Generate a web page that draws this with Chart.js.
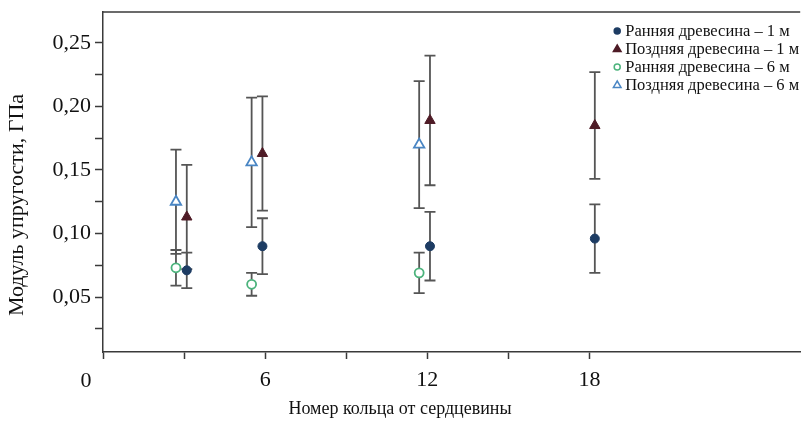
<!DOCTYPE html>
<html>
<head>
<meta charset="utf-8">
<script src="https://cdn.jsdelivr.net/npm/chart.js@4.4.1/dist/chart.umd.min.js"></script>
<style>
    html, body { margin: 0; padding: 0; background: #fff; }
</style>
</head>
<body>
<canvas id="chart" width="808" height="428"></canvas>
<script>
// Номер кольца от сердцевины (положение точек по оси X)
const ringsEarly1 = [3.1, 5.9, 12.1, 18.2];
const ringsLate1 = [3.1, 5.9, 12.1, 18.2];
const ringsEarly6 = [2.7, 5.5, 11.7];
const ringsLate6 = [2.7, 5.5, 11.7];

// Модуль упругости, ГПа
const early1 = [0.071, 0.090, 0.090, 0.096];
const late1 = [0.113, 0.163, 0.189, 0.185];
const early6 = [0.073, 0.060, 0.069];
const late6 = [0.125, 0.156, 0.170];

// Полуширина планок погрешностей
const early1Err = [0.014, 0.022, 0.027, 0.027];
const late1Err = [0.041, 0.045, 0.051, 0.042];
const early6Err = [0.014, 0.009, 0.016];
const late6Err = [0.041, 0.051, 0.050];

// Деления осей
const xTicks = [0, 3, 6, 9, 12, 15, 18];
const yTicks = [0.025, 0.05, 0.075, 0.10, 0.125, 0.15, 0.175, 0.20, 0.225, 0.25];

const xTitle = 'Номер кольца от сердцевины';
const yTitle = 'Модуль упругости, ГПа';

const serif = 'Liberation Serif';
const axisColor = '#3a3a3a';

function points(xs, ys) {
    return xs.map((x, i) => ({ x: x, y: ys[i] }));
}

// Планки погрешностей
const errorBarsPlugin = {
    id: 'errorBars',
    beforeDatasetsDraw(chart) {
        const ctx = chart.ctx;
        const xs = chart.scales.x;
        const ys = chart.scales.y;
        ctx.save();
        ctx.strokeStyle = '#555';
        ctx.lineWidth = 1.8;
        chart.data.datasets.forEach(ds => {
            ds.data.forEach((p, i) => {
                const e = ds.errors[i];
                const px = xs.getPixelForValue(p.x);
                const top = ys.getPixelForValue(p.y + e);
                const bottom = ys.getPixelForValue(p.y - e);
                ctx.beginPath();
                ctx.moveTo(px, top);
                ctx.lineTo(px, bottom);
                ctx.moveTo(px - 5.5, top);
                ctx.lineTo(px + 5.5, top);
                ctx.moveTo(px - 5.5, bottom);
                ctx.lineTo(px + 5.5, bottom);
                ctx.stroke();
            });
        });
        ctx.restore();
    }
};

function drawMarker(ctx, style, x, y, r, fill, stroke) {
    ctx.beginPath();
    if (style === 'triangle') {
        ctx.moveTo(x, y - r);
        ctx.lineTo(x + r * 0.95, y + r * 0.6);
        ctx.lineTo(x - r * 0.95, y + r * 0.6);
        ctx.closePath();
    } else {
        ctx.arc(x, y, r, 0, Math.PI * 2);
    }
    ctx.fillStyle = fill;
    ctx.fill();
    ctx.lineWidth = 1.5;
    ctx.strokeStyle = stroke;
    ctx.stroke();
}

// Рамка сверху, подписи осей, "0" и легенда внутри области графика
const framePlugin = {
    id: 'frame',
    afterDraw(chart) {
        const ctx = chart.ctx;
        const area = chart.chartArea;
        const xs = chart.scales.x;
        ctx.save();
        ctx.strokeStyle = axisColor;
        ctx.lineWidth = 1.5;
        ctx.beginPath();
        ctx.moveTo(area.left, area.top);
        ctx.lineTo(area.right, area.top);
        ctx.stroke();

        ctx.fillStyle = '#111';
        ctx.textAlign = 'center';
        ctx.textBaseline = 'middle';
        ctx.font = '22px "' + serif + '"';
        ctx.fillText('0', xs.getPixelForValue(0) - 17, area.bottom + 29);

        // подписи осей
        ctx.font = '18px "' + serif + '"';
        ctx.fillText(xTitle, 400, 409);
        ctx.save();
        ctx.translate(17, 205);
        ctx.rotate(-Math.PI / 2);
        ctx.font = '22px "' + serif + '"';
        ctx.fillText(yTitle, 0, 0);
        ctx.restore();

        // легенда
        ctx.font = '16.5px "' + serif + '"';
        ctx.textAlign = 'left';
        const textX = area.right - 175;
        chart.data.datasets.forEach((ds, i) => {
            const y = area.top + 19 + i * 18;
            drawMarker(ctx, ds.pointStyle, textX - 8, y, ds.pointStyle === 'triangle' ? 4 : 3,
                ds.pointBackgroundColor, ds.pointBorderColor);
            ctx.fillStyle = '#111';
            ctx.fillText(ds.label, textX, y + 1);
        });
        ctx.restore();
    }
};

new Chart(document.getElementById('chart'), {
    type: 'scatter',
    data: {
        datasets: [
            {
                label: 'Ранняя древесина – 1 м',
                data: points(ringsEarly1, early1),
                errors: early1Err,
                pointStyle: 'circle',
                pointRadius: 4.5,
                pointBackgroundColor: '#1d3c63',
                pointBorderColor: '#1d3c63',
                pointBorderWidth: 1
            },
            {
                label: 'Поздняя древесина – 1 м',
                data: points(ringsLate1, late1),
                errors: late1Err,
                pointStyle: 'triangle',
                pointRadius: 6,
                pointBackgroundColor: '#4e1b26',
                pointBorderColor: '#4e1b26',
                pointBorderWidth: 1
            },
            {
                label: 'Ранняя древесина – 6 м',
                data: points(ringsEarly6, early6),
                errors: early6Err,
                pointStyle: 'circle',
                pointRadius: 4.5,
                pointBackgroundColor: '#ffffff',
                pointBorderColor: '#4cb37c',
                pointBorderWidth: 1.8
            },
            {
                label: 'Поздняя древесина – 6 м',
                data: points(ringsLate6, late6),
                errors: late6Err,
                pointStyle: 'triangle',
                pointRadius: 6,
                pointBackgroundColor: '#ffffff',
                pointBorderColor: '#4a86c4',
                pointBorderWidth: 1.8
            }
        ]
    },
    options: {
        responsive: false,
        animation: false,
        devicePixelRatio: 1,
        layout: { padding: { top: 12, right: 0, left: 0, bottom: 0 } },
        plugins: {
            legend: { display: false },
            tooltip: { enabled: false }
        },
        scales: {
            x: {
                type: 'linear',
                min: 0,
                max: 25.8,
                afterBuildTicks: scale => { scale.ticks = xTicks.map(v => ({ value: v })); },
                afterFit: scale => { scale.height = 76; },
                ticks: {
                    autoSkip: false,
                    maxRotation: 0,
                    padding: 8,
                    color: '#111',
                    font: { family: serif, size: 22 },
                    callback: v => (v !== 0 && v % 6 === 0) ? String(v) : ''
                },
                grid: { drawOnChartArea: false, tickLength: 7, tickColor: axisColor, tickWidth: 1.5 },
                border: { color: axisColor, width: 1.5 }
            },
            y: {
                min: 0.0067,
                max: 0.2744,
                afterBuildTicks: scale => { scale.ticks = yTicks.map(v => ({ value: v })); },
                afterFit: scale => {
                    scale.width = 103;
                    scale.paddingTop = 0;
                    scale.paddingBottom = 0;
                },
                ticks: {
                    autoSkip: false,
                    padding: 4,
                    color: '#111',
                    font: { family: serif, size: 22 },
                    callback: v => Math.abs(v * 20 - Math.round(v * 20)) < 1e-6 ? v.toFixed(2).replace('.', ',') : ''
                },
                grid: { drawOnChartArea: false, tickLength: 8, tickColor: axisColor, tickWidth: 1.5 },
                border: { color: axisColor, width: 1.5 }
            }
        }
    },
    plugins: [errorBarsPlugin, framePlugin]
});
</script>
</body>
</html>
